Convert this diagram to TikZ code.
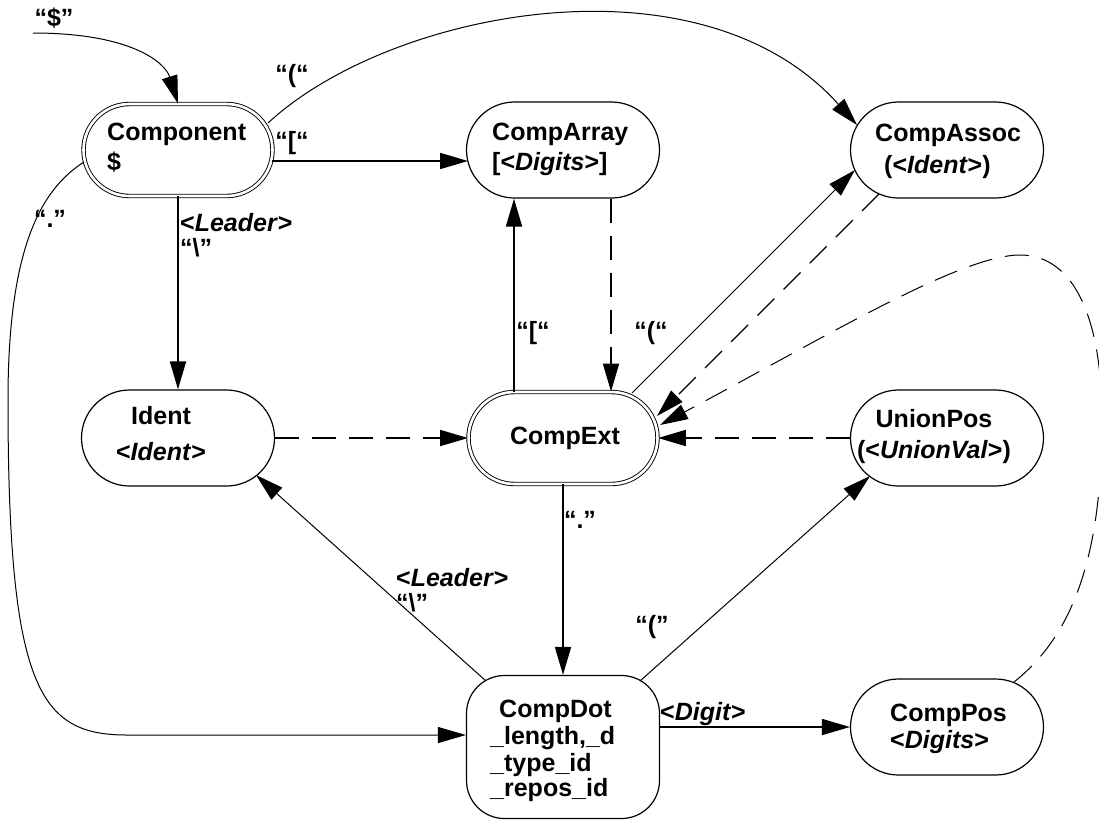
\documentclass[tikz,border=0pt]{standalone}
\usepackage{fontspec}
\setmainfont{Liberation Sans}
\usetikzlibrary{arrows.meta,shapes.misc,calc}
\newcommand{\angw}[1]{<\textit{#1}>}
\begin{document}
\begin{tikzpicture}[x=1pt,y=-1pt,
  every node/.style={font=\fontsize{25}{27}\selectfont\bfseries},
  st/.style={rounded rectangle, draw, line width=1.2pt, minimum width=193pt, minimum height=96pt, inner sep=0pt},
  dst/.style={rounded rectangle, draw, double, double distance=2.6pt, line width=0.9pt, minimum width=189pt, minimum height=92pt, inner sep=0pt},
  dotst/.style={rectangle, rounded corners=38pt, draw, line width=1.2pt, minimum width=193pt, minimum height=143pt, inner sep=0pt},
  txt/.style={align=left, inner sep=0pt},
  lab/.style={inner sep=0pt},
  hd/.style={-{Triangle[length=28pt,width=16pt]}},
  ln/.style={hd, line width=1pt},
  lnb/.style={hd, line width=1.8pt},
  dsh/.style={hd, line width=1.8pt, dash pattern=on 24pt off 13pt},
  dshl/.style={hd, line width=1.2pt, dash pattern=on 24pt off 13pt},
]
\useasboundingbox (0,0) rectangle (1099,820);

% states
\node[dst] (comp) at (178,150) {};
\node[st] (arr) at (563,150) {};
\node[st] (assoc) at (947,150) {};
\node[st] (ident) at (178,438) {};
\node[dst] (ext) at (563,438) {};
\node[st] (union) at (947,438) {};
\node[dotst] (dot) at (563,747) {};
\node[st] (pos) at (947,727) {};

% state texts
\node[txt, anchor=north west] (comp-t) at (107,123) {Component\\[3pt]\$};
\node[txt, anchor=north west] (arr-t) at (492,123) {CompArray\\[3pt]{[}\angw{Digits}{]}};
\node[txt, anchor=north west] (assoc-t) at (875,124) {CompAssoc\\[5pt]\hspace*{9pt}(\angw{Ident})};
\node[align=center, inner sep=0pt, anchor=north] (ident-t) at (161,406) {Ident\\[9pt]\angw{Ident}};
\node[lab] (ext-t) at (565,438) {CompExt};
\node[align=center, inner sep=0pt, anchor=north] (union-t) at (934,409) {UnionPos\\[4pt](\angw{UnionVal})};
\node[txt, anchor=north west] (dot-t) at (490,700) {\hspace*{9pt}CompDot\\\_length,\_d\\\_type\_id\\[-2pt]\_repos\_id};
\node[txt, anchor=north west] (pos-t) at (890,704) {CompPos\\\angw{Digits}};

% edge labels
\coordinate (start) at (33,33);
\node[lab] (l-dollar) at (54,18) {“\$”};
\node[lab] (l-paren1) at (292,76) {“(“};
\node[lab] (l-brack1) at (292,143) {“[“};
\node[txt, anchor=north west] (l-lead1) at (180,213) {\angw{Leader}\\[-2pt]“\textbackslash”};
\node[lab] (l-dot1) at (50,219) {“.”};
\node[lab] (l-brack2) at (533,333) {“[“};
\node[lab] (l-paren2) at (651,333) {“(“};
\node[lab] (l-dot2) at (580,520) {“.”};
\node[txt, anchor=north west] (l-lead2) at (396,568) {\angw{Leader}\\[-2pt]“\textbackslash”};
\node[lab] (l-paren3) at (652,627) {“(”};
\node[lab] (l-digit) at (703,714) {\angw{Digit}};

% connectors
\draw[ln] (start) .. controls (130,33) and (165,62) .. (comp.north);
\draw[ln] ($(comp.center)+(90,-27)$) .. controls (390,10) and (700,-50) .. ($(assoc.center)+(-90,-25)$);
\draw[lnb] ($(comp.center)+(94,11)$) -- ($(arr.center)+(-95,11)$);
\draw[lnb] (comp.south) -- (ident.north);
\draw[ln] ($(comp.center)+(-94,12)$) .. controls (40,190) and (8,250) .. (8,400)
  .. controls (8,690) and (40,735) .. (127,735) -- ($(dot.west)+(0,-12)$);
\draw[lnb] ($(ext.north)+(-49,0)$) -- ($(arr.south)+(-49,0)$);
\draw[dsh] ($(arr.south)+(48,0)$) -- ($(ext.north)+(48,0)$);
\draw[ln] ($(ext.center)+(69,-45)$) -- ($(assoc.center)+(-92,20)$);
\draw[dshl] ($(assoc.center)+(-68,44)$) -- ($(ext.center)+(94,-22)$);
\draw[dsh] (union.west) -- (ext.east);
\draw[dsh] (ident.east) -- (ext.west);
\draw[lnb] (ext.south) -- (dot.north);
\draw[ln] ($(dot.center)+(-77,-66)$) -- ($(ident.center)+(78,37)$);
\draw[ln] ($(dot.center)+(77,-66)$) -- ($(union.center)+(-77,38)$);
\draw[lnb] ($(dot.east)+(0,-20)$) -- (pos.west);
\draw[dshl, line width=1pt] ($(pos.center)+(67,-45)$) .. controls (1080,630) and (1102,540) .. (1102,420)
  .. controls (1102,320) and (1075,255) .. (1020,255)
  .. controls (960,255) and (820,340) .. ($(ext.center)+(97,-13)$);
\end{tikzpicture}
\end{document}
